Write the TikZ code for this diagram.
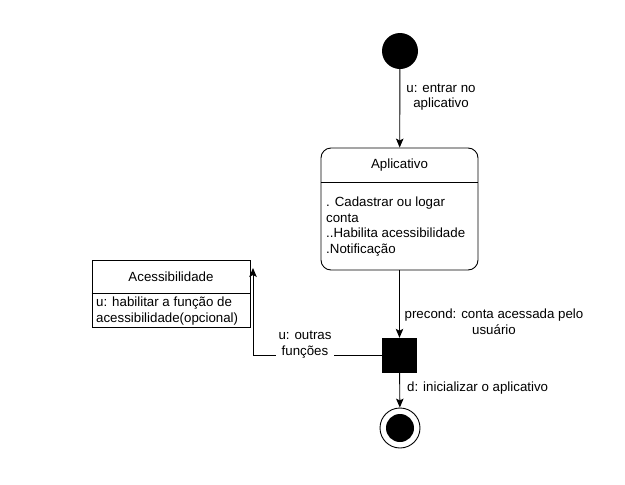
\documentclass[tikz,border=0pt]{standalone}
\usepackage{fontspec}
\setmainfont{Liberation Sans}
\usetikzlibrary{arrows.meta}
\begin{document}
\begin{tikzpicture}[x=1pt,y=-1pt,
  every node/.style={font=\fontsize{13.3}{15.8}\selectfont},
  conn/.style={draw=black,line width=0.9pt,-{Stealth[length=9pt,width=7.5pt,inset=2pt]}},
  plain/.style={draw=black,line width=0.9pt},
  lbl/.style={inner sep=1pt,align=center},
  boxstyle/.style={draw=black,line width=0.9pt,inner sep=0pt}
]
\useasboundingbox[fill=white] (0,0) rectangle (625,485);
% start state
\node[circle,fill=black,minimum size=36pt,inner sep=0pt] (start) at (400,51) {};
% Aplicativo state
\node[boxstyle,rounded corners=10pt,minimum width=157pt,minimum height=122pt] (app) at (399.5,209) {};
\coordinate (apphdr) at (0,182);
\draw[plain] (app.west |- apphdr) -- (app.east |- apphdr);
\node[inner sep=0pt] (apptitle) at (399.5,165) {Aplicativo};
\node[anchor=west,align=left,inner sep=0pt] (appbody) at (326,226.5) {. Cadastrar ou logar\\conta\\..Habilita acessibilidade\\.Notificação};
% Acessibilidade state
\node[boxstyle,minimum width=158pt,minimum height=67pt] (acc) at (171,293.5) {};
\coordinate (acchdr) at (0,293);
\draw[plain] (acc.west |- acchdr) -- (acc.east |- acchdr);
\node[inner sep=0pt] (acctitle) at (171,277) {Acessibilidade};
\node[anchor=west,align=left,inner sep=0pt] (accbody) at (96,311) {u: habilitar a função de\\acessibilidade(opcional)};
% join (black square)
\node[fill=black,minimum width=35pt,minimum height=35pt,inner sep=0pt] (join) at (399.5,355.5) {};
% final state
\node[circle,draw=black,line width=0.9pt,minimum size=40pt,inner sep=0pt] (final) at (400,428) {};
\node[circle,fill=black,minimum size=28pt,inner sep=0pt] (finalin) at (400,428) {};
% connectors
\draw[conn] (start) -- (app);
\draw[conn] (app) -- (join);
\draw[conn] (join) -- (final);
\coordinate (acctip) at (253,268);
\draw[conn] (join.west) -| (acctip);
% labels
\node[lbl] (l1) at (441,97) {u: entrar no\\aplicativo};
\node[lbl] (l2) at (494,322) {precond: conta acessada pelo\\usuário};
\node[lbl,fill=white,inner sep=3pt] (l3) at (305,345) {u: outras\\funções};
\node[anchor=west,inner sep=0pt] (l4) at (407,388) {d: inicializar o aplicativo};
\end{tikzpicture}
\end{document}
